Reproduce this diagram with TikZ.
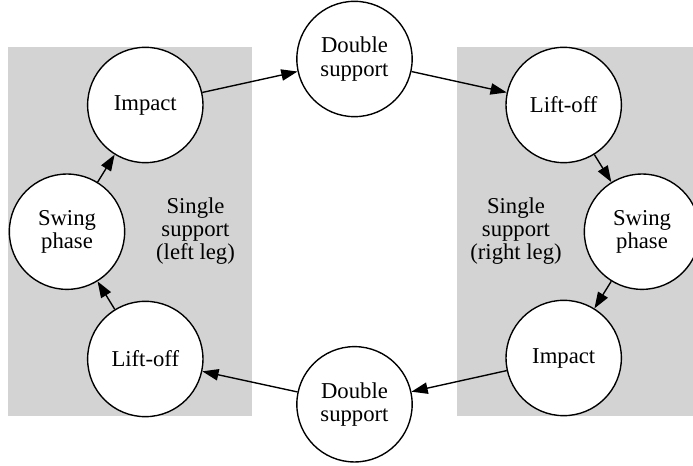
\documentclass[tikz,border=0pt]{standalone}
\usepackage{fontspec}
\setmainfont{Liberation Serif}
\usetikzlibrary{arrows.meta}
\definecolor{clustergray}{HTML}{D3D3D3}
\begin{document}
\begin{tikzpicture}[x=0.6173pt,y=-0.6173pt,
  state/.style={circle,draw=black,fill=white,line width=0.85pt,inner sep=0pt,
    minimum size=71.2pt,align=center,font=\fontsize{14}{14.4}\selectfont},
  label/.style={align=center,font=\fontsize{14}{14.4}\selectfont},
  edge/.style={line width=0.85pt,-{Triangle[length=10pt,width=7pt]}},
  cluster/.style={fill=clustergray,draw=none}]
\useasboundingbox (0,0) rectangle (693,466);
\clip (0,0) rectangle (693,466);
\fill[cluster] (8.3,47.3) rectangle (251.7,415.7);
\fill[cluster] (457.3,47.3) rectangle (700.7,415.7);
\node[state] (dsT) at (354.5,59) {Double\\support};
\node[state] (impL) at (145.3,105) {Impact};
\node[state] (swL) at (67,231.7) {Swing\\phase};
\node[state] (loL) at (145.3,359) {Lift-off};
\node[state] (dsB) at (354.5,404.3) {Double\\support};
\node[state] (loR) at (563.7,105) {Lift-off};
\node[state] (swR) at (642,231.7) {Swing\\phase};
\node[state] (impR) at (563.7,358) {Impact};
\node[label] (txtL) at (195.5,231) {Single\\support\\(left leg)};
\node[label] (txtR) at (516,231) {Single\\support\\(right leg)};
\draw[edge] (impL) -- (dsT);
\draw[edge] (dsT) -- (loR);
\draw[edge] (loR) -- (swR);
\draw[edge] (swR) -- (impR);
\draw[edge] (impR) -- (dsB);
\draw[edge] (dsB) -- (loL);
\draw[edge] (loL) -- (swL);
\draw[edge] (swL) -- (impL);
\end{tikzpicture}
\end{document}
